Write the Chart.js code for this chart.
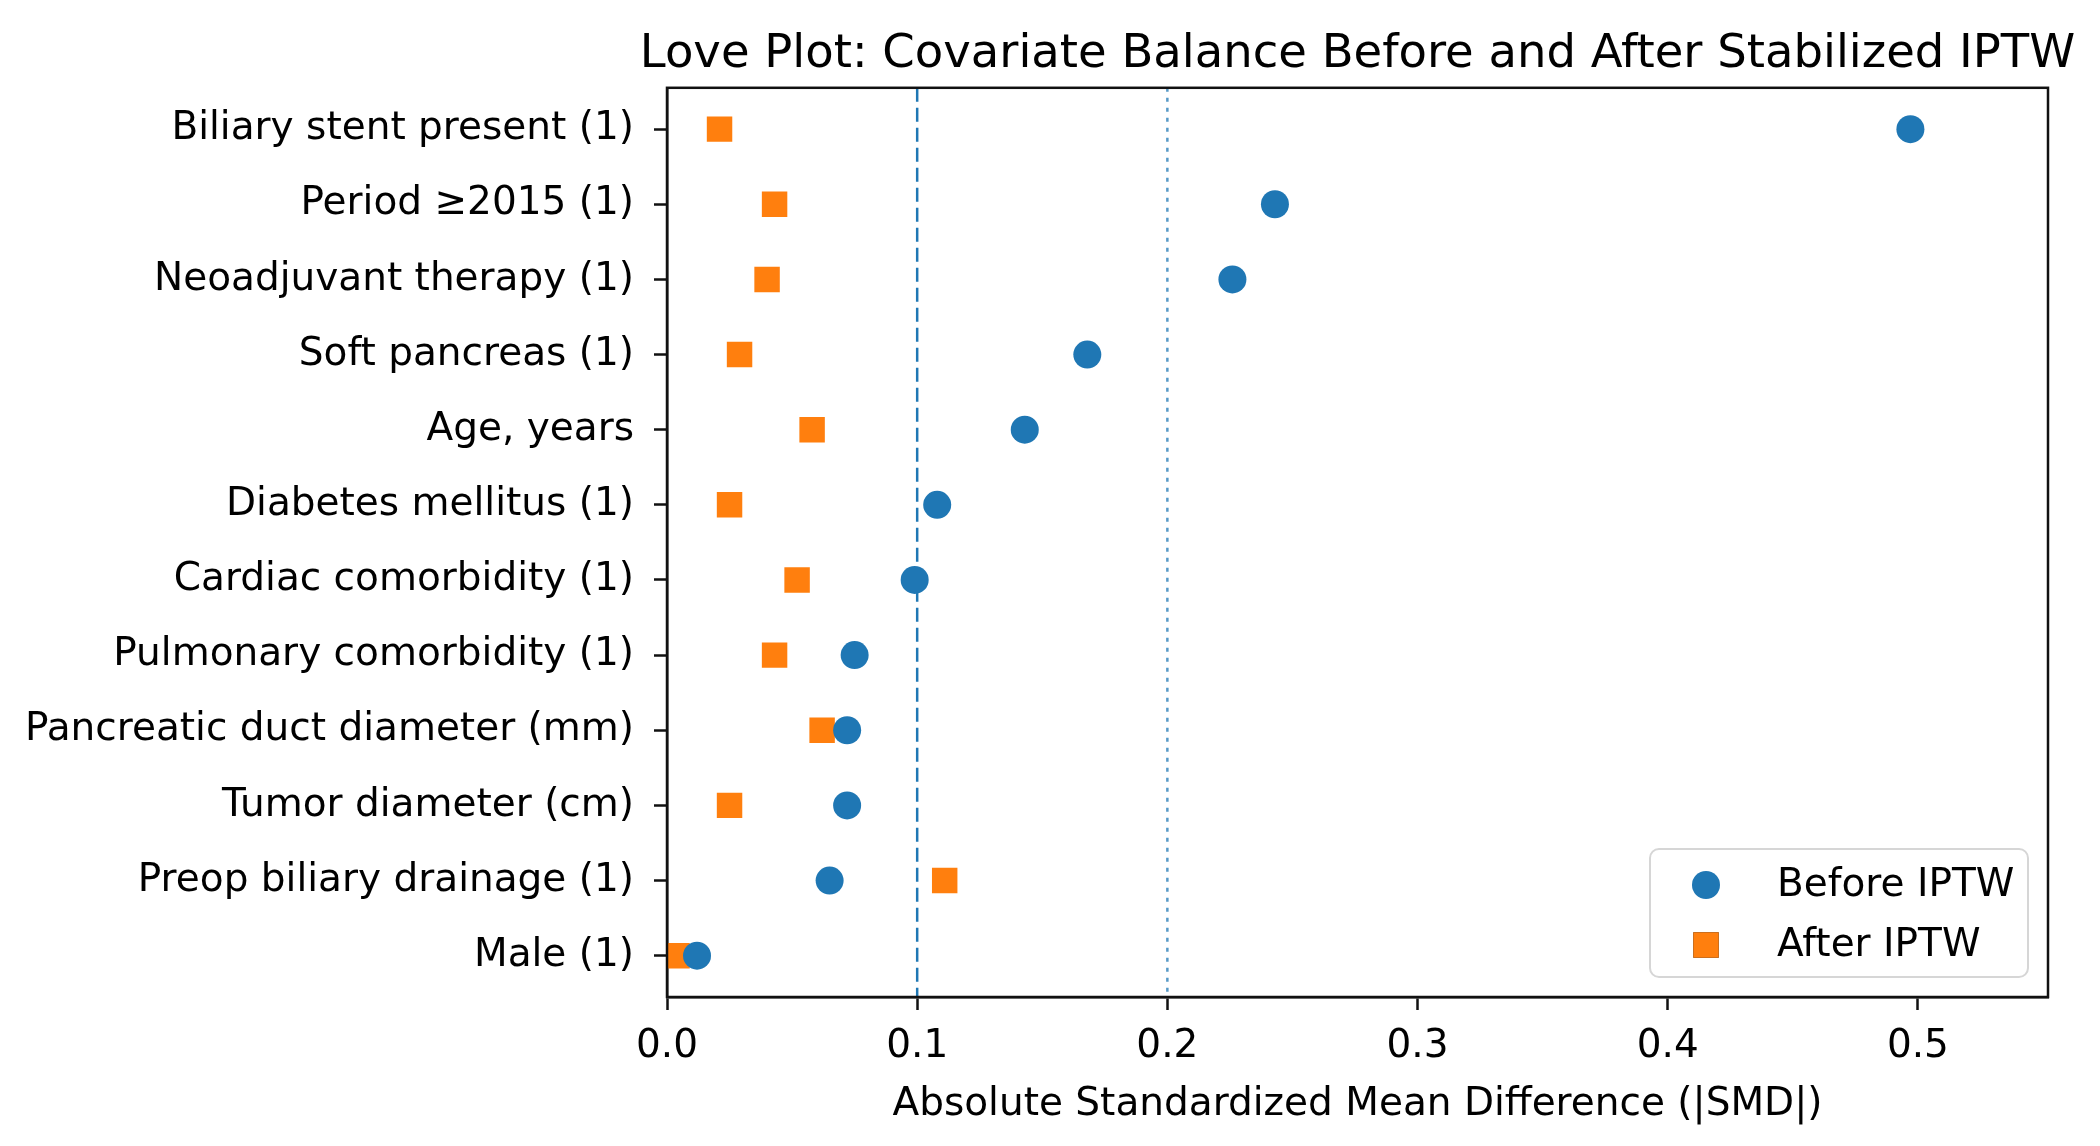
<!DOCTYPE html>
<html>
<head>
<meta charset="utf-8">
<script src="https://cdn.jsdelivr.net/npm/chart.js@4.4.1/dist/chart.umd.min.js"></script>
<style>
    html, body { margin: 0; padding: 0; background: #fff; }
    canvas { display: block; }
</style>
</head>
<body>
<canvas id="love-plot" width="2100" height="1146"></canvas>
<script>
// --- data (top row first) ---
const covariates = [
    'Biliary stent present (1)',
    'Period \u22652015 (1)',
    'Neoadjuvant therapy (1)',
    'Soft pancreas (1)',
    'Age, years',
    'Diabetes mellitus (1)',
    'Cardiac comorbidity (1)',
    'Pulmonary comorbidity (1)',
    'Pancreatic duct diameter (mm)',
    'Tumor diameter (cm)',
    'Preop biliary drainage (1)',
    'Male (1)'
];
const smdBefore = [0.497, 0.243, 0.226, 0.168, 0.143, 0.108, 0.099, 0.075, 0.072, 0.072, 0.065, 0.012];
const smdAfter  = [0.021, 0.043, 0.040, 0.029, 0.058, 0.025, 0.052, 0.043, 0.062, 0.025, 0.111, 0.004];
const xTicks = [0, 0.1, 0.2, 0.3, 0.4, 0.5];
const thresholds = [0.1, 0.2];

const FONT = 'DejaVu Sans';
const BLUE = '#1f77b4';
const ORANGE = '#ff7f0e';
const AXIS = '#111';

// box round the plot (matplotlib spines)
const framePlugin = {
    id: 'frame',
    afterDraw(chart) {
        const { ctx, chartArea: a } = chart;
        ctx.save();
        ctx.strokeStyle = AXIS;
        ctx.lineWidth = 2.5;
        ctx.strokeRect(a.left, a.top, a.right - a.left, a.bottom - a.top);
        ctx.restore();
    }
};

// title is centred on the axes but wider than them: widen its box so it isn't squeezed
const titleOverAxes = {
    id: 'titleOverAxes',
    afterLayout(chart) {
        const t = chart.titleBlock;
        if (!t) return;
        const mid = (chart.chartArea.left + chart.chartArea.right) / 2;
        t.left = mid - 760;
        t.right = mid + 760;
        t.width = t.right - t.left;
    }
};

// legend in the lower right corner, inside the axes
const cornerLegend = {
    id: 'cornerLegend',
    afterDraw(chart) {
        const { ctx, chartArea: a } = chart;
        const items = chart.data.datasets.filter(d => d.inLegend);
        const w = 378, rowH = 60, h = 128;
        const x0 = a.right - 20 - w, y0 = a.bottom - 20 - h;
        ctx.save();
        ctx.beginPath();
        ctx.roundRect(x0, y0, w, h, 9);
        ctx.fillStyle = 'rgba(255,255,255,0.8)';
        ctx.fill();
        ctx.strokeStyle = '#d6d6d6';
        ctx.lineWidth = 2;
        ctx.stroke();
        items.forEach((d, i) => {
            const cy = y0 + 36 + i * rowH;
            Chart.helpers.drawPoint(ctx, {
                pointStyle: d.pointStyle, radius: d.pointRadius, borderWidth: 0
            }, x0 + 56, cy);
            ctx.fillStyle = d.backgroundColor;
            ctx.fill();
            ctx.fillStyle = '#000';
            ctx.font = `39px "${FONT}"`;
            ctx.textBaseline = 'middle';
            ctx.fillText(d.label, x0 + 127, cy + 1);
        });
        ctx.restore();
    }
};

const yMin = -0.55, yMax = covariates.length - 1 + 0.55;

const datasets = [
    {
        label: 'Before IPTW', inLegend: true,
        data: smdBefore.map((v, i) => ({ x: v, y: i })),
        pointStyle: 'circle', pointRadius: 14, pointHoverRadius: 14,
        backgroundColor: BLUE, borderWidth: 0, showLine: false
    },
    {
        label: 'After IPTW', inLegend: true,
        data: smdAfter.map((v, i) => ({ x: v, y: i })),
        pointStyle: 'rect', pointRadius: 18, pointHoverRadius: 18,
        backgroundColor: ORANGE, borderWidth: 0, showLine: false
    },
    {
        label: 'SMD 0.1',
        data: [{ x: thresholds[0], y: yMin }, { x: thresholds[0], y: yMax }],
        showLine: true, pointRadius: 0, borderColor: BLUE, borderWidth: 2.5,
        borderDash: [14, 6], fill: false
    },
    {
        label: 'SMD 0.2',
        data: [{ x: thresholds[1], y: yMin }, { x: thresholds[1], y: yMax }],
        showLine: true, pointRadius: 0, borderColor: 'rgba(31,119,180,0.75)', borderWidth: 2.5,
        borderDash: [4, 6], fill: false
    }
];

new Chart(document.getElementById('love-plot'), {
    type: 'scatter',
    data: { datasets },
    options: {
        responsive: false,
        devicePixelRatio: 1,
        animation: false,
        layout: { padding: { left: 0, right: 52, top: 0, bottom: 0 } },
        plugins: {
            legend: { display: false },
            tooltip: { enabled: false },
            title: {
                display: true,
                fullSize: false,
                text: 'Love Plot: Covariate Balance Before and After Stabilized IPTW',
                color: '#000',
                font: { family: FONT, size: 46.5, weight: 'normal', lineHeight: 1.2 },
                padding: { top: 27, bottom: 5 }
            }
        },
        scales: {
            x: {
                type: 'linear',
                min: 0, max: 0.552,
                afterBuildTicks: s => { s.ticks = xTicks.map(v => ({ value: v })); },
                afterFit: s => { s.height = 149; },
                ticks: {
                    color: '#000', padding: 13,
                    font: { family: FONT, size: 39 },
                    callback: v => v.toFixed(1)
                },
                grid: { drawOnChartArea: false, drawTicks: true, tickLength: 13, tickWidth: 2.5, tickColor: AXIS },
                border: { display: true, color: AXIS, width: 2.5 },
                title: {
                    display: true,
                    text: 'Absolute Standardized Mean Difference (|SMD|)',
                    color: '#000',
                    font: { family: FONT, size: 39, lineHeight: 1.2 },
                    padding: { top: 0, bottom: 18 }
                }
            },
            y: {
                type: 'linear',
                reverse: true,
                min: yMin, max: yMax,
                afterBuildTicks: s => { s.ticks = covariates.map((c, i) => ({ value: i })); },
                afterFit: s => { s.width = 667; },
                ticks: {
                    color: '#000', padding: 20,
                    font: { family: FONT, size: 39 },
                    callback: (v, i) => covariates[i]
                },
                grid: { drawOnChartArea: false, drawTicks: true, tickLength: 13, tickWidth: 2.5, tickColor: AXIS },
                border: { display: true, color: AXIS, width: 2.5 }
            }
        }
    },
    plugins: [framePlugin, titleOverAxes, cornerLegend]
});
</script>
</body>
</html>
